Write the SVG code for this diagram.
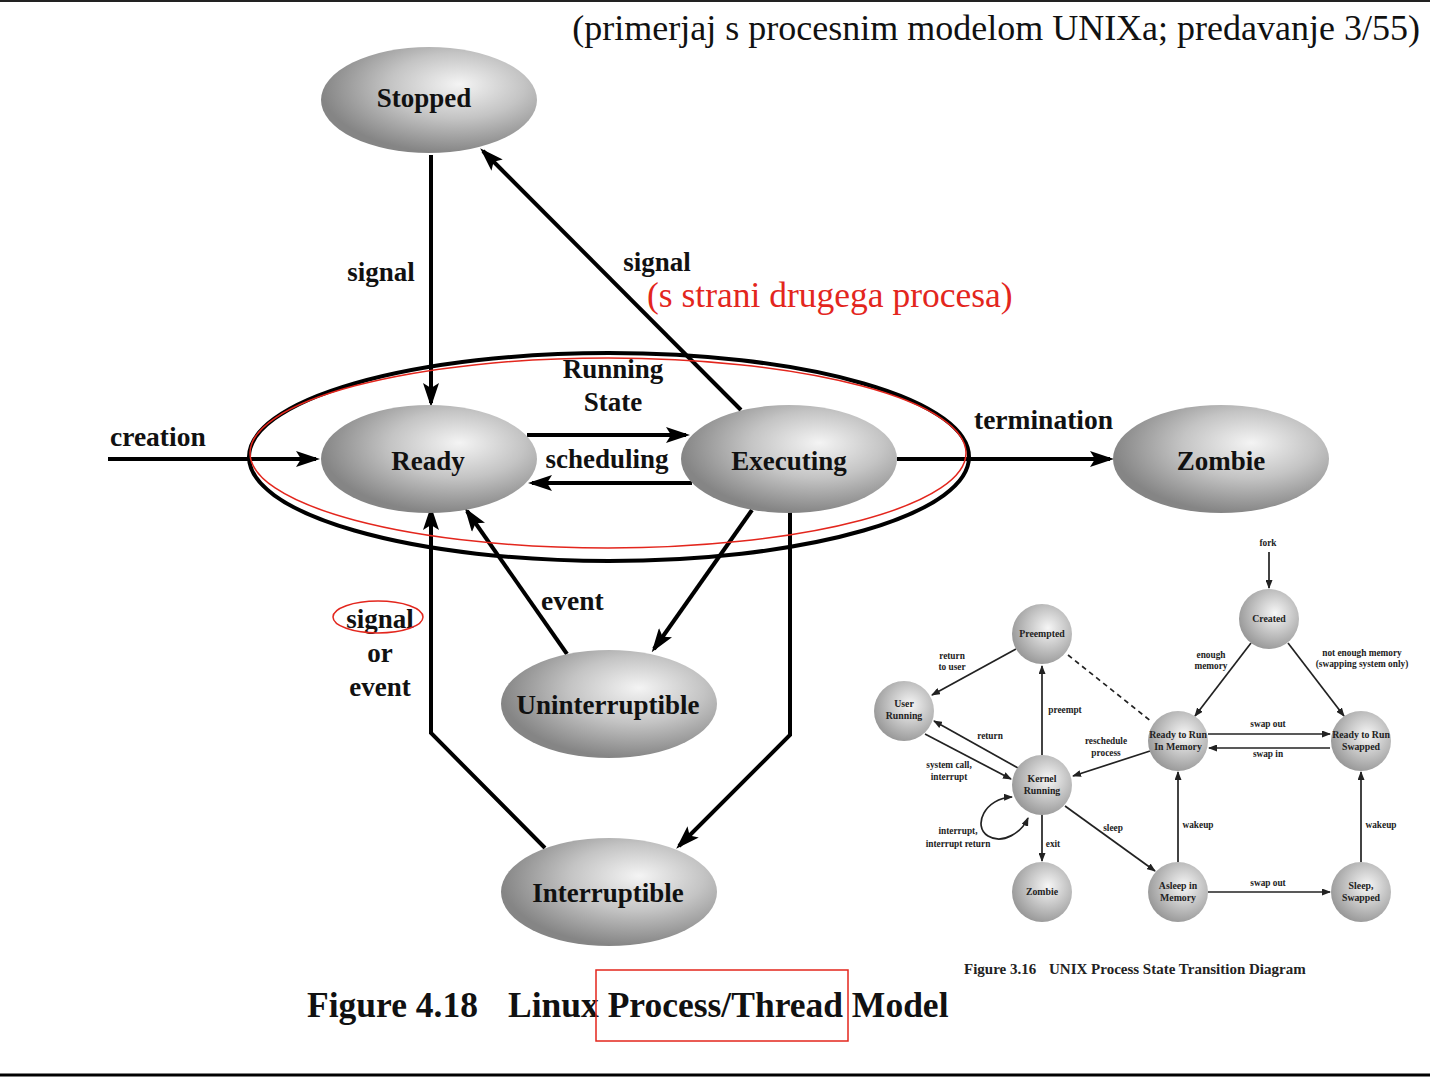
<svg xmlns="http://www.w3.org/2000/svg" width="1430" height="1078" viewBox="0 0 1430 1078">
<style>
.lbl{font-family:"Liberation Serif","Times New Roman",serif;font-weight:bold;font-size:27px;fill:#111;text-anchor:middle}
.lbll{font-family:"Liberation Serif","Times New Roman",serif;font-weight:bold;font-size:27.5px;fill:#111}
.node{stroke:none}
.conn{fill:none;stroke:#000;stroke-width:4}
.sconn{fill:none;stroke:#222;stroke-width:1.7}
.snode{fill:url(#sg);stroke:none}
.st{font-family:"Liberation Serif","Times New Roman",serif;font-weight:bold;font-size:9.3px;fill:#222;text-anchor:middle}
.sn{font-family:"Liberation Serif","Times New Roman",serif;font-weight:bold;font-size:9.8px;fill:#222;text-anchor:middle}
.red{fill:none;stroke:#e3261d;stroke-width:1.5}
</style>
<defs>
<radialGradient id="g" cx="0.62" cy="0.38" r="0.62" fx="0.64" fy="0.35">
<stop offset="0" stop-color="#f4f4f4"/>
<stop offset="0.5" stop-color="#c4c4c4"/>
<stop offset="1" stop-color="#858585"/>
</radialGradient>
<radialGradient id="sg" cx="0.6" cy="0.4" r="0.62">
<stop offset="0" stop-color="#f6f6f6"/>
<stop offset="1" stop-color="#9a9a9a"/>
</radialGradient>
<marker id="ah" viewBox="0 0 24 16" refX="20" refY="8" markerWidth="24" markerHeight="16" markerUnits="userSpaceOnUse" orient="auto">
<path d="M0,0 L24,8 L0,16 L5,8 z" fill="#000"/>
</marker>
<marker id="sah" viewBox="0 0 9 7" refX="8" refY="3.5" markerWidth="9" markerHeight="7" markerUnits="userSpaceOnUse" orient="auto-start-reverse">
<path d="M0,0 L9,3.5 L0,7 z" fill="#222"/>
</marker>
</defs>

<rect width="1430" height="1078" fill="#fff"/>
<line x1="0" y1="1" x2="1430" y2="1" stroke="#222" stroke-width="2"/>
<line x1="0" y1="1075" x2="1430" y2="1075" stroke="#000" stroke-width="3"/>

<text x="1420" y="40" font-family="Liberation Serif,'Times New Roman',serif" font-size="36" fill="#111" text-anchor="end">(primerjaj s procesnim modelom UNIXa; predavanje 3/55)</text>

<g id="running-state">
<ellipse cx="609" cy="457" rx="360" ry="104" fill="none" stroke="#000" stroke-width="4"/>
<text class="lbl" x="613" y="378">Running</text>
<text class="lbl" x="613" y="411">State</text>
</g>

<g id="connectors">
<path class="conn" d="M431,155 L431,403" marker-end="url(#ah)"/>
<path class="conn" d="M741,410 L483,151" marker-end="url(#ah)"/>
<path class="conn" d="M108,459 L316,459" marker-end="url(#ah)"/>
<path class="conn" d="M527,435 L686,435" marker-end="url(#ah)"/>
<path class="conn" d="M692,483 L532,483" marker-end="url(#ah)"/>
<path class="conn" d="M897,459 L1110,459" marker-end="url(#ah)"/>
<path class="conn" d="M567,654 L467,511" marker-end="url(#ah)"/>
<path class="conn" d="M752,510 L654,649" marker-end="url(#ah)"/>
<path class="conn" d="M545,848 L431,733 L431,510" marker-end="url(#ah)"/>
<path class="conn" d="M790,512 L790,735 L679,846" marker-end="url(#ah)"/>
<text class="lbl" x="381" y="281">signal</text>
<text class="lbl" x="657" y="271">signal</text>
<text class="lbll" x="110" y="446">creation</text>
<text class="lbl" x="607" y="468">scheduling</text>
<text class="lbll" x="974" y="429">termination</text>
<text class="lbll" x="541" y="610">event</text>
<text class="lbl" x="380" y="628">signal</text>
<text class="lbl" x="380" y="662">or</text>
<text class="lbl" x="380" y="696">event</text>
</g>

<g id="stopped"><ellipse class="node" cx="429" cy="100" rx="108" ry="53" fill="url(#g)"/><text class="lbl" x="424" y="107">Stopped</text></g>
<g id="ready"><ellipse class="node" cx="429" cy="459" rx="108" ry="54" fill="url(#g)"/><text class="lbl" x="428" y="470">Ready</text></g>
<g id="executing"><ellipse class="node" cx="789" cy="459" rx="108" ry="54" fill="url(#g)"/><text class="lbl" x="789" y="470">Executing</text></g>
<g id="zombie"><ellipse class="node" cx="1221" cy="459" rx="108" ry="54" fill="url(#g)"/><text class="lbl" x="1221" y="470">Zombie</text></g>
<g id="uninterruptible"><ellipse class="node" cx="609" cy="704" rx="108" ry="54" fill="url(#g)"/><text class="lbl" x="608" y="714">Uninterruptible</text></g>
<g id="interruptible"><ellipse class="node" cx="609" cy="892" rx="108" ry="54" fill="url(#g)"/><text class="lbl" x="608" y="902">Interruptible</text></g>

<text x="307" y="1017" font-family="Liberation Serif,'Times New Roman',serif" font-weight="bold" font-size="35.5" fill="#111">Figure 4.18<tspan x="508">Linux Process/Thread Model</tspan></text>

<g id="annotations">
<ellipse class="red" cx="608" cy="453" rx="358" ry="95"/>
<ellipse class="red" cx="378" cy="617" rx="45" ry="16"/>
<rect class="red" x="596" y="970" width="252" height="71"/>
<text x="647" y="307" font-family="Liberation Serif,'Times New Roman',serif" font-size="35.5" fill="#e3261d">(s strani drugega procesa)</text>
</g>

<g id="unix-inset">
<g id="unix-connectors">
<path class="sconn" d="M1269,552 L1269,588" marker-end="url(#sah)"/>
<path class="sconn" d="M1251,643 L1195,716" marker-end="url(#sah)"/>
<path class="sconn" d="M1288,643 L1344,716" marker-end="url(#sah)"/>
<path class="sconn" d="M1016,649 L932,695" marker-end="url(#sah)"/>
<path class="sconn" d="M1068,655 L1152,722" stroke-dasharray="5,4"/>
<path class="sconn" d="M1042,755 L1042,666" marker-end="url(#sah)"/>
<path class="sconn" d="M1018,768 L934,721" marker-end="url(#sah)"/>
<path class="sconn" d="M925,734 L1011,779" marker-end="url(#sah)"/>
<path class="sconn" d="M1150,751 L1073,776" marker-end="url(#sah)"/>
<path class="sconn" d="M1208,734 L1330,734" marker-end="url(#sah)"/>
<path class="sconn" d="M1330,748 L1209,748" marker-end="url(#sah)"/>
<path class="sconn" d="M1012,797 C985,798 972,826 988,836 C1003,845 1022,832 1028,818" marker-start="url(#sah)" marker-end="url(#sah)"/>
<path class="sconn" d="M1042,815 L1042,861" marker-end="url(#sah)"/>
<path class="sconn" d="M1065,806 L1155,871" marker-end="url(#sah)"/>
<path class="sconn" d="M1178,862 L1178,772" marker-end="url(#sah)"/>
<path class="sconn" d="M1208,892 L1330,892" marker-end="url(#sah)"/>
<path class="sconn" d="M1361,862 L1361,772" marker-end="url(#sah)"/>
<text class="st" x="1268" y="546">fork</text>
<text class="st" x="1211" y="658">enough</text>
<text class="st" x="1211" y="669">memory</text>
<text class="st" x="1362" y="656">not enough memory</text>
<text class="st" x="1362" y="667">(swapping system only)</text>
<text class="st" x="952" y="659">return</text>
<text class="st" x="952" y="670">to user</text>
<text class="st" x="1065" y="713">preempt</text>
<text class="st" x="990" y="739">return</text>
<text class="st" x="1106" y="744">reschedule</text>
<text class="st" x="1106" y="756">process</text>
<text class="st" x="949" y="768">system call,</text>
<text class="st" x="949" y="780">interrupt</text>
<text class="st" x="1268" y="727">swap out</text>
<text class="st" x="1268" y="757">swap in</text>
<text class="st" x="958" y="834">interrupt,</text>
<text class="st" x="958" y="847">interrupt return</text>
<text class="st" x="1053" y="847">exit</text>
<text class="st" x="1113" y="831">sleep</text>
<text class="st" x="1198" y="828">wakeup</text>
<text class="st" x="1381" y="828">wakeup</text>
<text class="st" x="1268" y="886">swap out</text>
</g>
<g id="u-preempted"><circle class="snode" cx="1042" cy="634" r="30"/><text class="sn" x="1042" y="637">Preempted</text></g>
<g id="u-created"><circle class="snode" cx="1269" cy="619" r="30"/><text class="sn" x="1269" y="622">Created</text></g>
<g id="u-user"><circle class="snode" cx="904" cy="711" r="30"/><text class="sn" x="904" y="707">User</text><text class="sn" x="904" y="719">Running</text></g>
<g id="u-rtr-mem"><circle class="snode" cx="1178" cy="741" r="30"/><text class="sn" x="1178" y="738">Ready to Run</text><text class="sn" x="1178" y="750">In Memory</text></g>
<g id="u-rtr-swp"><circle class="snode" cx="1361" cy="741" r="30"/><text class="sn" x="1361" y="738">Ready to Run</text><text class="sn" x="1361" y="750">Swapped</text></g>
<g id="u-kernel"><circle class="snode" cx="1042" cy="785" r="30"/><text class="sn" x="1042" y="782">Kernel</text><text class="sn" x="1042" y="794">Running</text></g>
<g id="u-zombie"><circle class="snode" cx="1042" cy="892" r="30"/><text class="sn" x="1042" y="895">Zombie</text></g>
<g id="u-asleep"><circle class="snode" cx="1178" cy="892" r="30"/><text class="sn" x="1178" y="889">Asleep in</text><text class="sn" x="1178" y="901">Memory</text></g>
<g id="u-sleep-swp"><circle class="snode" cx="1361" cy="892" r="30"/><text class="sn" x="1361" y="889">Sleep,</text><text class="sn" x="1361" y="901">Swapped</text></g>
<text x="964" y="974" font-family="Liberation Serif,'Times New Roman',serif" font-weight="bold" font-size="15" fill="#222">Figure 3.16<tspan x="1049">UNIX Process State Transition Diagram</tspan></text>
</g>
</svg>
